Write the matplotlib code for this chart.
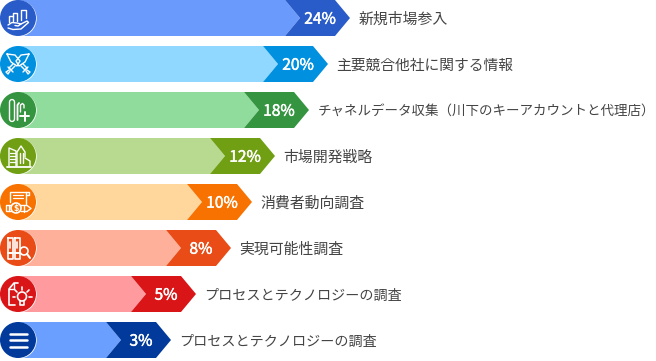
import numpy as np
import matplotlib
matplotlib.use("Agg")
import matplotlib.pyplot as plt
import matplotlib.patheffects as pe
from matplotlib.patches import Polygon, Circle

plt.rcParams['font.family'] = ['Noto Sans CJK JP', 'DejaVu Sans']

labels = ['新規市場参入', '主要競合他社に関する情報',
          'チャネルデータ収集（川下のキーアカウントと代理店）',
          '市場開発戦略', '消費者動向調査', '実現可能性調査',
          'プロセスとテクノロジーの調査', 'プロセスとテクノロジーの調査']
values = [24, 20, 18, 12, 10, 8, 5, 3]
bar_ends = [350, 328, 309, 275, 252, 231, 196, 171]
dark = ['#2a5cc9', '#0090e0', '#359440', '#719f14', '#f77200', '#e94c16', '#d91518', '#023a9c']
light = ['#6a9bfc', '#90d8ff', '#90dc9c', '#b8da90', '#ffd69c', '#ffb09a', '#ff9a9e', '#6a9fff']
label_sizes = [14.9, 14.8, 13.5, 14.9, 14.9, 14.9, 14.1, 14.1]

ROW_H, PITCH, HEAD, NOTCH, BODY = 36, 46, 65, 15, 15

fig = plt.figure(figsize=(6.56, 3.61), dpi=100)
ax = fig.add_axes([0, 0, 1, 1])
ax.set_xlim(0, 656)
ax.set_ylim(361, 0)
ax.axis('off')


def line(cx, cy, pts, lw=1.0, closed=False, color='white', z=6):
    p = np.array(pts, float) + [cx, cy]
    if closed:
        p = np.vstack([p, p[0]])
    ax.plot(p[:, 0], p[:, 1], color=color, lw=lw, solid_capstyle='round',
            solid_joinstyle='round', zorder=z)


def ring(cx, cy, x, y, r, lw=1.2):
    ax.add_patch(Circle((cx + x, cy + y), r, fill=False, ec='white', lw=lw, zorder=6))


def icon_market(c, y, col):
    line(c, y, [(-9.5, 4), (-9.5, -2), (-5.5, -2)])
    line(c, y, [(-5.5, 3), (-5.5, -5.5), (-1, -5.5), (-1, 3)])
    line(c, y, [(3, 2), (3, -8.5), (8, -8.5), (8, 0)])
    line(c, y, [(-10, 7), (-6, 4.5), (-1, 5), (3, 6), (0, 8), (-3, 7.5)])
    line(c, y, [(3, 6), (9, 3), (10.5, 4.5), (3, 11), (-5, 11.5), (-10, 10)])


def icon_swords(c, y, col):
    line(c, y, [(-11, -10), (-3, -9), (2, -3), (-1, 2), (-7, -2)], closed=True)
    line(c, y, [(11, -10), (3, -9), (-2, -3), (1, 2), (7, -2)], closed=True)
    line(c, y, [(-3, 2), (-7, 6), (-9, 4), (-5, 0)])
    line(c, y, [(-10, 3), (-5, 8)])
    line(c, y, [(-8, 7), (-10, 10), (-12, 8), (-9, 6)])
    line(c, y, [(3, 2), (7, 6), (9, 4), (5, 0)])
    line(c, y, [(10, 3), (5, 8)])
    line(c, y, [(8, 7), (10, 10), (12, 8), (9, 6)])


def icon_tubes(c, y, col):
    line(c, y, [(-6, -8), (-6, 9)], lw=4.6)
    line(c, y, [(-6, -8), (-6, 9)], lw=2.6, color=col, z=7)
    line(c, y, [(-0.5, 10), (-0.5, -5), (1, -7)], lw=1.3)
    line(c, y, [(2.5, 2), (2.5, -5), (4.5, -6.5), (6, -5), (6, -2)], lw=1.0)
    line(c, y, [(2, 6), (11, 6)], lw=1.4)
    line(c, y, [(6.5, 1.5), (6.5, 10.5)], lw=1.4)


def icon_city(c, y, col):
    line(c, y, [(-9, 10), (-9, -8), (-2, -5), (-2, 10)])
    for dy in (-3, 0, 3, 6):
        line(c, y, [(-8, dy), (-3, dy)], lw=0.9)
    line(c, y, [(-1, 10), (-1, -4), (3, -10), (7, -4), (7, 1)])
    line(c, y, [(1.5, -3), (1.5, 7)])
    line(c, y, [(4.5, -3), (4.5, 7)])
    line(c, y, [(7, 2), (12, 5), (12, 10)])
    line(c, y, [(-11, 10.5), (13, 10.5)], lw=1.3)


def icon_money(c, y, col):
    line(c, y, [(-8, 0), (-8, -10), (8, -10), (8, 2)])
    line(c, y, [(8, -10), (11, -10), (11, -7), (8, -7)])
    for dy in (-7, -4):
        line(c, y, [(-5, dy), (5, dy)], lw=0.9)
    ring(c, y, -2, 6, 5)
    ax.text(c - 2, y + 6, '$', color='white', fontsize=5.5, fontweight='bold', ha='center',
            va='center', zorder=6, family=['DejaVu Sans'])
    line(c, y, [(-7, 3), (-12, 3), (-12, 9), (-7, 9)])
    line(c, y, [(-9.5, 3), (-9.5, 9)])
    line(c, y, [(3, 3.5), (9, 3.5), (13, 6.5), (9, 9.5), (3, 9.5)])
    line(c, y, [(6, 3.5), (6, 9.5)])


def icon_books(c, y, col):
    for x in (-10, -3):
        line(c, y, [(x, -10), (x + 5, -10), (x + 5, 11), (x, 11)], closed=True, lw=1.2)
        line(c, y, [(x, 5), (x + 5, 5)], lw=1.4)
        line(c, y, [(x + 2, -6), (x + 2, 0)], lw=1.2)
    ring(c, y, 6, 3, 4)
    line(c, y, [(9, 6), (12, 10)], lw=1.5)


def icon_idea(c, y, col):
    line(c, y, [(-3, 11), (-9, 11), (-9, -5), (-4, -11), (0, -11)], lw=1.2)
    line(c, y, [(-9, -5), (-4, -5), (-4, -11)], lw=1.0)
    ring(c, y, 4, 2.5, 4.5)
    line(c, y, [(2, 7), (2, 11), (6, 11), (6, 7)], lw=1.2)
    for a, b in [((4, -4), (4, -7)), ((-3, 2.5), (-5.5, 2.5)), ((11, 2.5), (13.5, 2.5)),
                 ((-1, -2), (-3, -4)), ((9, -2), (11, -4))]:
        line(c, y, [a, b], lw=1.2)


def icon_menu(c, y, col):
    for dy in (-6.5, 0, 6.5):
        line(c, y, [(-8.5, dy), (8.5, dy)], lw=1.8)


icons = [icon_market, icon_swords, icon_tubes, icon_city,
         icon_money, icon_books, icon_idea, icon_menu]

for i, (lab, val, end) in enumerate(zip(labels, values, bar_ends)):
    top, bot, mid = i * PITCH, i * PITCH + ROW_H, i * PITCH + ROW_H / 2
    start = end - HEAD
    ax.add_patch(Polygon([(18, top), (start, top), (start + BODY, mid), (start, bot), (18, bot)],
                         closed=True, fc=light[i], ec='none', zorder=2))
    ax.add_patch(Polygon([(start, top), (end - NOTCH, top), (end, mid), (end - NOTCH, bot),
                          (start, bot), (start + BODY, mid)],
                         closed=True, fc=dark[i], ec='none', zorder=3))
    ax.add_patch(Circle((18.7, mid + 0.5), 18, fc='white', ec='none', zorder=4))
    ax.add_patch(Circle((18, mid), 18, fc=dark[i], ec='none', zorder=5))
    icons[i](18, mid, dark[i])
    t = ax.text(end - 30, mid + 1.2, f'{val}%', color='white', fontsize=11.2,
                ha='center', va='center', zorder=6)
    t.set_path_effects([pe.withStroke(linewidth=0.35, foreground='white')])
    ax.text(end + 8.5, mid + 1.6, lab, color='#444444', fontsize=label_sizes[i] * 0.72,
            ha='left', va='center', zorder=6)

fig.savefig('out.png', dpi=100, facecolor='white')
